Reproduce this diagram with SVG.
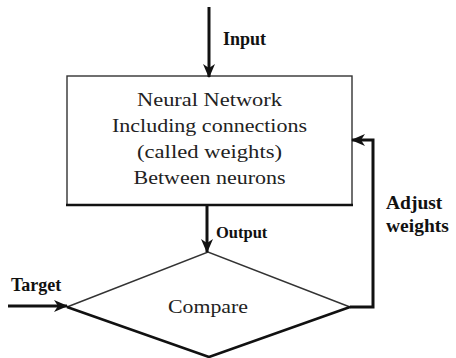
<svg xmlns="http://www.w3.org/2000/svg" width="456" height="358" viewBox="0 0 456 358">
<style>
.reg{font-family:"Liberation Serif","Times New Roman",serif;font-size:19.5px;fill:#222;text-anchor:middle}
.lbl{font-family:"Liberation Serif","Times New Roman",serif;font-size:18px;font-weight:bold;fill:#111}
.con{fill:none;stroke:#111;stroke-width:3}
.thin{fill:none;stroke:#333;stroke-width:1.4}
.thick{fill:none;stroke:#111;stroke-width:2.6}
</style>
<defs>
<marker id="ah" markerUnits="userSpaceOnUse" markerWidth="14" markerHeight="14" viewBox="0 0 14 14" refX="13" refY="7" orient="auto">
<path d="M0,1 L14,7 L0,13 L4,7 z" fill="#111"/>
</marker>
</defs>
<rect width="456" height="358" fill="#fff"/>
<g id="network">
<rect class="thin" x="67" y="76" width="285" height="129" fill="#fff"/>
<line class="thick" x1="66" y1="205" x2="353" y2="205"/>
<text class="reg" x="209.5" y="106" textLength="145" lengthAdjust="spacingAndGlyphs">Neural Network</text>
<text class="reg" x="209.5" y="132" textLength="195" lengthAdjust="spacingAndGlyphs">Including connections</text>
<text class="reg" x="209.5" y="158" textLength="145" lengthAdjust="spacingAndGlyphs">(called weights)</text>
<text class="reg" x="209.5" y="184" textLength="152" lengthAdjust="spacingAndGlyphs">Between neurons</text>
</g>
<g id="compare">
<polyline class="thin" points="67,307 208,252 350,307"/>
<polyline class="thick" points="67,307 209,357 350,307"/>
<text class="reg" x="208" y="313" textLength="80" lengthAdjust="spacingAndGlyphs">Compare</text>
</g>
<g id="connectors">
<line class="con" x1="209" y1="7" x2="209" y2="77" marker-end="url(#ah)"/>
<line class="con" x1="207" y1="206" x2="207" y2="252" marker-end="url(#ah)"/>
<line class="con" x1="8" y1="306" x2="67" y2="306" marker-end="url(#ah)"/>
<polyline class="con" points="350,307 373,307 373,140 352,140" marker-end="url(#ah)"/>
</g>
<g id="labels">
<text class="lbl" x="223" y="45">Input</text>
<text class="lbl" x="216" y="238" style="font-size:16.5px">Output</text>
<text class="lbl" x="11" y="291">Target</text>
<text class="lbl" x="386" y="209" style="font-size:19.5px">Adjust</text>
<text class="lbl" x="386" y="232" style="font-size:19.5px">weights</text>
</g>
</svg>
